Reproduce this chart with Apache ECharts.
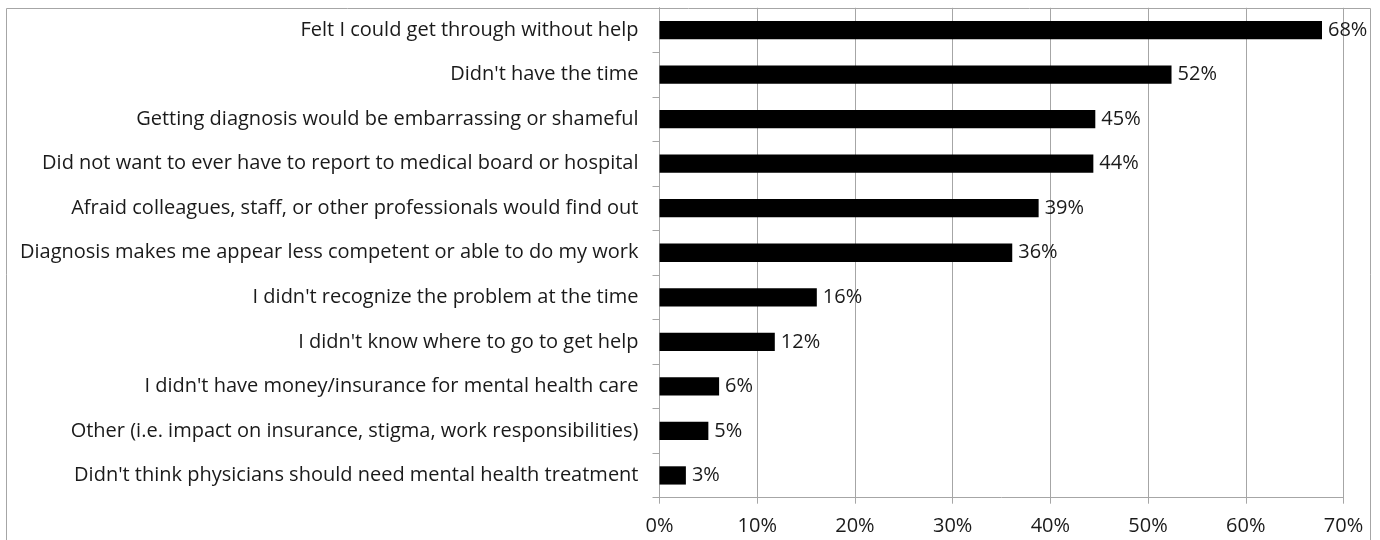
<!DOCTYPE html>
<html>
<head>
<meta charset="utf-8">
<script src="https://cdn.jsdelivr.net/npm/echarts@6/dist/echarts.min.js"></script>
<style>
html,body{margin:0;padding:0;background:#fff;}
#chart{width:1380px;height:540px;}
</style>
</head>
<body>
<div id="chart"></div>
<script>
var categories = [
  "Felt I could get through without help",
  "Didn't have the time",
  "Getting diagnosis would be embarrassing or shameful",
  "Did not want to ever have to report to medical board or hospital",
  "Afraid colleagues, staff, or other professionals would find out",
  "Diagnosis makes me appear less competent or able to do my work",
  "I didn't recognize the problem at the time",
  "I didn't know where to go to get help",
  "I didn't have money/insurance for mental health care",
  "Other (i.e. impact on insurance, stigma, work responsibilities)",
  "Didn't think physicians should need mental health treatment"
];
var values = [67.8, 52.4, 44.6, 44.4, 38.8, 36.1, 16.1, 11.8, 6.1, 5.0, 2.7];
var labels = ["68%", "52%", "45%", "44%", "39%", "36%", "16%", "12%", "6%", "5%", "3%"];
var xTicks = [0, 10, 20, 30, 40, 50, 60, 70];

var FONT = "'Open Sans', sans-serif";
var chart = echarts.init(document.getElementById('chart'), null, {renderer: 'canvas'});
chart.setOption({
  animation: false,
  backgroundColor: '#ffffff',
  graphic: [{
    type: 'rect',
    shape: {x: 6.5, y: 8.5, width: 1364, height: 600},
    style: {fill: 'none', stroke: '#a6a6a6', lineWidth: 1},
    silent: true
  }],
  grid: {left: 659.5, right: 36.5, top: 7.8, bottom: 42.3, containLabel: false},
  xAxis: {
    type: 'value',
    min: xTicks[0],
    max: xTicks[xTicks.length - 1],
    interval: 10,
    axisLine: {show: true, lineStyle: {color: '#a6a6a6', width: 1}},
    axisTick: {show: true, length: 6, lineStyle: {color: '#a6a6a6'}},
    splitLine: {show: true, lineStyle: {color: '#a6a6a6', width: 1}},
    axisLabel: {
      formatter: function (v) { return v + '%'; },
      color: '#1a1a1a', fontFamily: FONT, fontSize: 20, margin: 19
    }
  },
  yAxis: {
    type: 'category',
    data: categories,
    inverse: true,
    axisLine: {show: true, lineStyle: {color: '#a6a6a6', width: 1}},
    axisTick: {show: true, length: 7, lineStyle: {color: '#a6a6a6'}},
    axisLabel: {color: '#1a1a1a', fontFamily: FONT, fontSize: 20, margin: 21}
  },
  series: [{
    type: 'bar',
    data: values,
    barWidth: '41%',
    itemStyle: {color: '#000000'},
    label: {
      show: true,
      position: 'right',
      distance: 6,
      formatter: function (p) { return labels[p.dataIndex]; },
      color: '#1a1a1a', fontFamily: FONT, fontSize: 20
    }
  }]
});
</script>
</body>
</html>
